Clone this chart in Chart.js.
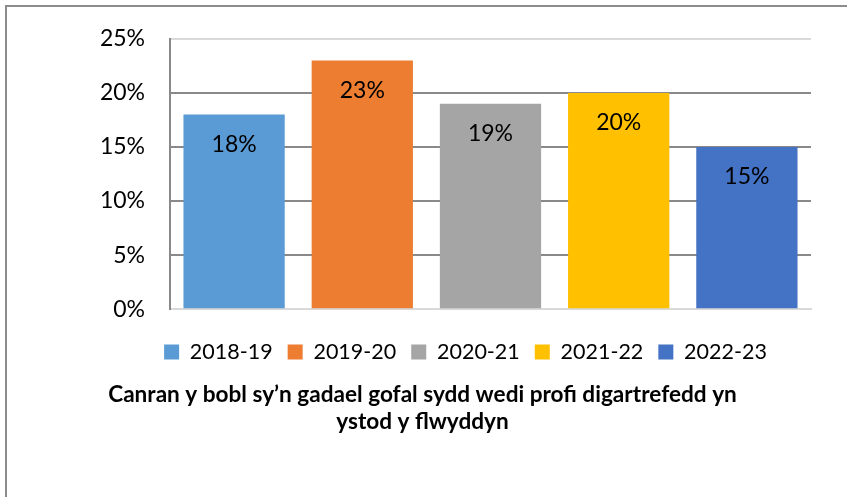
<!DOCTYPE html>
<html>
<head>
<meta charset="utf-8">
<script src="https://cdn.jsdelivr.net/npm/chart.js@4/dist/chart.umd.min.js"></script>
<style>
  body { margin: 0; background: #fff; }
  #wrap { position: relative; width: 847px; height: 497px; }
  #frame { position: absolute; left: 5px; top: 5px; width: 900px; height: 600px;
           border-left: 2px solid #8c8c8c; border-top: 2px solid #8c8c8c; pointer-events: none; }
</style>
</head>
<body>
<div id="wrap">
  <canvas id="myChart" width="847" height="497"></canvas>
  <div id="frame"></div>
</div>
<script>
// data
var years = ['2018-19', '2019-20', '2020-21', '2021-22', '2022-23'];
var values = [18, 23, 19, 20, 15];
var colours = ['#5B9BD5', '#ED7D31', '#A5A5A5', '#FFC000', '#4472C4'];
var yTicks = [0, 5, 10, 15, 20, 25];
var titleLines = ['Canran y bobl sy\u2019n gadael gofal sydd wedi profi digartrefedd yn', 'ystod y flwyddyn'];

var FONT = 'Lato, "Open Sans", sans-serif';

// draw the value inside each bar, just under its top
var barLabels = {
    id: 'barLabels',
    afterDatasetsDraw: function(chart) {
        var c = chart.ctx;
        c.save();
        c.font = '23px ' + FONT;
        c.fillStyle = '#000';
        c.textAlign = 'center';
        c.textBaseline = 'middle';
        chart.data.datasets.forEach(function(ds, i) {
            chart.getDatasetMeta(i).data.forEach(function(bar, j) {
                c.fillText(ds.data[j] + '%', bar.x, bar.y + 30);
            });
        });
        c.restore();
    }
};

// nudge legend and title sideways, as in the original
var nudge = {
    id: 'nudge',
    afterLayout: function(chart) {
        chart.legend.left += 55;
        chart.legend.right += 55;
        chart.titleBlock.left += 12;
        chart.titleBlock.right += 12;
    }
};

var ctx = document.getElementById('myChart').getContext('2d');
var chart = new Chart(ctx, {
    type: 'bar',
    data: {
        labels: [''],
        datasets: years.map(function(y, i) {
            return {
                label: y,
                data: [values[i]],
                backgroundColor: colours[i],
                categoryPercentage: 1.0,
                barPercentage: 0.79
            };
        })
    },
    options: {
        responsive: false,
        animation: false,
        layout: { padding: { left: 10, right: 36, top: 37, bottom: 62 } },
        scales: {
            x: {
                afterFit: function(scale) { scale.height += 9; },
                grid: { display: false },
                ticks: { display: false },
                border: { color: '#d9d9d9', width: 2 }
            },
            y: {
                min: 0,
                max: 25,
                afterBuildTicks: function(scale) {
                    scale.ticks = yTicks.map(function(v) { return { value: v }; });
                },
                afterFit: function(scale) { scale.width = 160; },
                ticks: {
                    padding: 25,
                    color: '#000',
                    font: { family: FONT, size: 23 },
                    callback: function(v) { return v + '%'; }
                },
                grid: {
                    drawTicks: false,
                    lineWidth: 2,
                    color: function(c) {
                        return (c.tick && (c.tick.value === 0 || c.tick.value === 25)) ? '#d9d9d9' : '#898989';
                    }
                },
                border: { color: '#898989', width: 2 }
            }
        },
        plugins: {
            legend: {
                position: 'bottom',
                labels: {
                    boxWidth: 15,
                    boxHeight: 15,
                    padding: 15,
                    color: '#000',
                    font: { family: FONT, size: 21.5 }
                }
            },
            title: {
                display: true,
                position: 'bottom',
                text: titleLines,
                color: '#000',
                font: { family: FONT, size: 22.6, weight: 'bold', lineHeight: 1.2 },
                padding: { top: 8, bottom: 0 }
            },
            tooltip: { enabled: false }
        }
    },
    plugins: [barLabels, nudge]
});
</script>
</body>
</html>
